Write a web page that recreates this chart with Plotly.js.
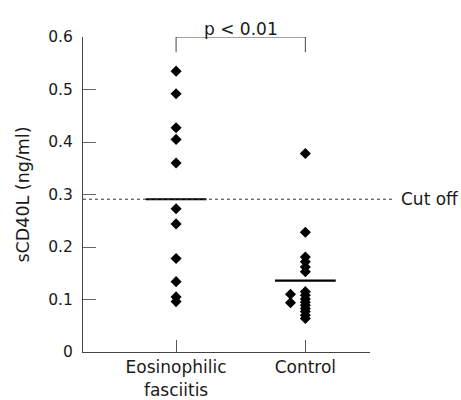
<!DOCTYPE html>
<html>
<head>
<meta charset="utf-8">
<script src="https://cdn.plot.ly/plotly-3.0.1.min.js"></script>
<style>html,body{margin:0;padding:0;background:#fff;}#chart{width:461px;height:400px;}</style>
</head>
<body>
<div id="chart"></div>
<script>
// ---- data ----
var groups = ['Eosinophilic<br>fasciitis', 'Control'];
var eosinophilicFasciitis = [0.535, 0.492, 0.427, 0.405, 0.360, 0.273, 0.244, 0.178, 0.134, 0.105, 0.096];
var control = [0.378, 0.228, 0.181, 0.172, 0.162, 0.153, 0.110, 0.094,
               0.115, 0.108, 0.101, 0.095, 0.089, 0.083, 0.077, 0.070, 0.064];
var groupMeans = [0.291, 0.136];
var cutOff = 0.291;
var pText = 'p < 0.01';
var yTicks = [0, 0.1, 0.2, 0.3, 0.4, 0.5, 0.6];

// ---- drawing ----
var FONT = '"DejaVu Sans", sans-serif';
var TXT = '#1a1a1a';
var ex = eosinophilicFasciitis.map(function(){ return 0; });
// two control points sit slightly left of the column (beeswarm offset)
var cx = control.map(function(v, i){ return (i === 6 || i === 7) ? 0.885 : 1; });

var diamond = {symbol: 'diamond', size: 8.5, color: '#000'};
var traces = [
  {x: ex, y: eosinophilicFasciitis, type: 'scatter', mode: 'markers', marker: diamond, hoverinfo: 'y'},
  {x: cx, y: control, type: 'scatter', mode: 'markers', marker: diamond, hoverinfo: 'y'}
];
var w = 0.235;
var shapes = [];
groupMeans.forEach(function(m, i){
  shapes.push({type: 'line', xref: 'x', yref: 'y', x0: i - w, x1: i + w, y0: m, y1: m,
               line: {color: '#000', width: 2.2}});
});
shapes.push({type: 'line', xref: 'paper', yref: 'y', x0: 0, x1: 1.087, y0: cutOff, y1: cutOff,
             line: {color: '#333', width: 1, dash: 'dot'}});
// significance bracket
shapes.push({type: 'path', xref: 'x', yref: 'y',
             path: 'M 0 0.571 L 0 0.6 L 1 0.6 L 1 0.571',
             line: {color: '#444', width: 1}});

var layout = {
  width: 461, height: 400,
  margin: {l: 83, r: 91, t: 37, b: 48},
  paper_bgcolor: '#fff', plot_bgcolor: '#fff',
  showlegend: false,
  font: {family: FONT, size: 17, color: TXT},
  xaxis: {
    range: [-0.72, 1.5], tickvals: [0, 1], ticktext: groups,
    showgrid: false, zeroline: false, showline: true, linecolor: '#444', linewidth: 1,
    ticks: 'inside', ticklen: 12, tickcolor: '#555', tickwidth: 1,
    tickfont: {family: FONT, size: 17, color: TXT}, fixedrange: true
  },
  yaxis: {
    range: [0, 0.6], tickvals: yTicks,
    showgrid: false, zeroline: false, showline: true, linecolor: '#444', linewidth: 1,
    ticks: 'inside', ticklen: 13, tickcolor: '#666', tickwidth: 1,
    ticklabelstandoff: 6,
    tickfont: {family: FONT, size: 15.5, color: TXT},
    title: {text: 'sCD40L (ng/ml)', font: {family: FONT, size: 17.5, color: TXT}, standoff: 14},
    fixedrange: true
  },
  shapes: shapes,
  annotations: [
    {text: pText, xref: 'x', yref: 'paper', x: 0.5, y: 1, yshift: 20, showarrow: false,
     font: {family: FONT, size: 17, color: TXT}},
    {text: 'Cut off', xref: 'paper', yref: 'y', x: 1.1, y: cutOff, xanchor: 'left', showarrow: false,
     font: {family: FONT, size: 17, color: TXT}}
  ]
};
Plotly.newPlot('chart', traces, layout, {displayModeBar: false, staticPlot: true});
</script>
</body>
</html>
